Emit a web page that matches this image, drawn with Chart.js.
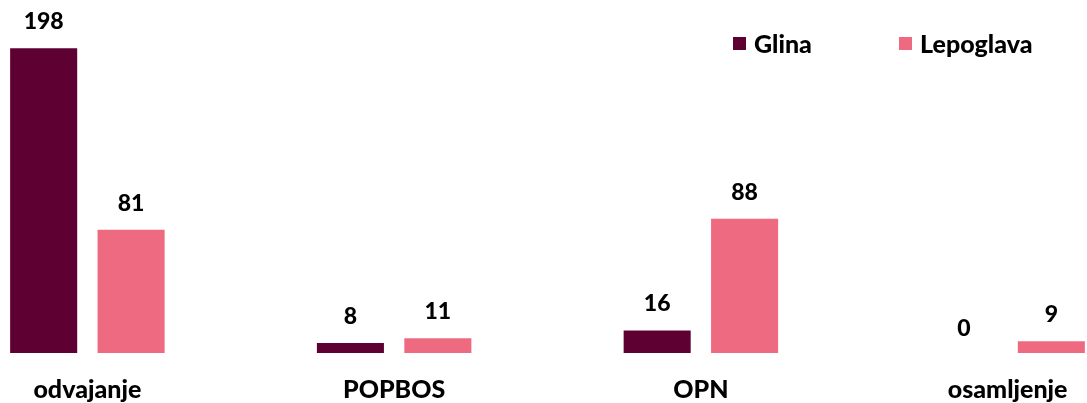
<!DOCTYPE html>
<html>
<head>
<meta charset="utf-8">
<script src="https://cdn.jsdelivr.net/npm/chart.js@4/dist/chart.umd.min.js"></script>
<style>
    html, body { margin: 0; padding: 0; background: #fff; }
    body { width: 1087px; height: 403px; overflow: hidden; position: relative; font-family: Lato, sans-serif; }
    #wrap { position: absolute; left: -66px; top: 0; width: 1227px; height: 403px; }
    #legend { position: absolute; top: 0; left: 0; width: 1087px; height: 80px; font-weight: 900; font-size: 25px; color: #000; }
    .item { position: absolute; top: 29px; height: 28px; line-height: 28px; white-space: nowrap; }
    .box { position: absolute; left: 0; top: 8px; width: 13px; height: 13px; }
    .lbl { position: absolute; left: 21px; top: 0; }
</style>
</head>
<body>
<div id="wrap"><canvas id="chart" width="1227" height="403"></canvas></div>
<div id="legend"></div>
<script>
document.addEventListener('DOMContentLoaded', () => {
    const categories = ['odvajanje', 'POPBOS', 'OPN', 'osamljenje'];
    const glinaValues = [198, 8, 16, 0];
    const lepoglavaValues = [81, 11, 88, 9];
    const seriesNames = ['Glina', 'Lepoglava'];
    const seriesColors = ['#5f0032', '#ee6a80'];

    // legend as plain html, chart is wider than the window
    const legend = document.getElementById('legend');
    const legendLeft = [733, 899];
    seriesNames.forEach((name, i) => {
        const item = document.createElement('div');
        item.className = 'item';
        item.style.left = legendLeft[i] + 'px';
        item.innerHTML = '<span class="box" style="background:' + seriesColors[i] + '"></span><span class="lbl">' + name + '</span>';
        legend.appendChild(item);
    });

    const valueLabels = {
        id: 'valueLabels',
        afterDatasetsDraw(chart) {
            const ctx = chart.ctx;
            const yScale = chart.scales.y;
            ctx.save();
            ctx.font = '900 23px Lato';
            ctx.fillStyle = '#000';
            ctx.textAlign = 'center';
            ctx.textBaseline = 'middle';
            chart.data.datasets.forEach((ds, di) => {
                const meta = chart.getDatasetMeta(di);
                meta.data.forEach((bar, i) => {
                    const v = ds.data[i];
                    ctx.fillText(String(v), bar.x, yScale.getPixelForValue(v) - 26.5);
                });
            });
            ctx.restore();
        }
    };

    const ctx = document.getElementById('chart').getContext('2d');
    new Chart(ctx, {
        type: 'bar',
        data: {
            labels: categories,
            datasets: [{
                label: seriesNames[0],
                data: glinaValues,
                backgroundColor: seriesColors[0],
                categoryPercentage: 0.57,
                barPercentage: 0.767
            }, {
                label: seriesNames[1],
                data: lepoglavaValues,
                backgroundColor: seriesColors[1],
                categoryPercentage: 0.57,
                barPercentage: 0.767
            }]
        },
        options: {
            responsive: false,
            animation: false,
            layout: { padding: 0 },
            plugins: {
                legend: { display: false },
                tooltip: { enabled: false }
            },
            scales: {
                x: {
                    grid: { display: false, drawTicks: false },
                    border: { display: false },
                    ticks: {
                        color: '#000',
                        font: { family: 'Lato', size: 25, weight: '900' },
                        padding: 22,
                        maxRotation: 0,
                        autoSkip: false
                    },
                    afterFit: (axis) => { axis.height = 50; }
                },
                y: {
                    display: false,
                    min: 1.5,
                    max: 229.1
                }
            }
        },
        plugins: [valueLabels]
    });
});
</script>
</body>
</html>
